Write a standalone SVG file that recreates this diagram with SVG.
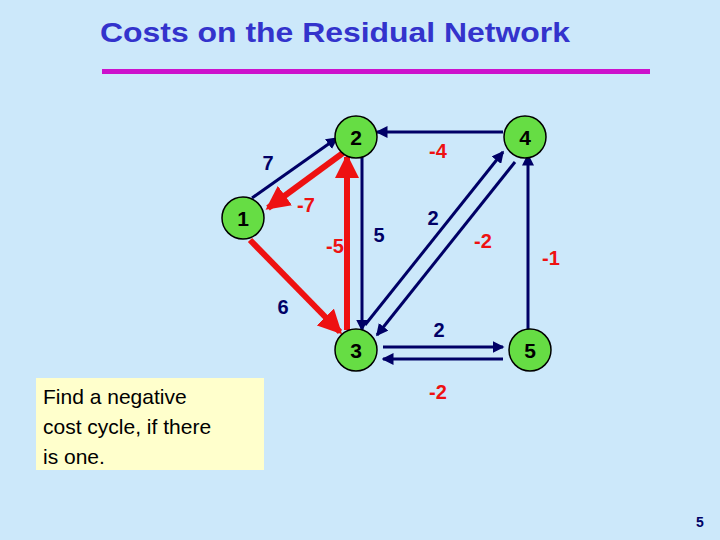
<svg xmlns="http://www.w3.org/2000/svg" width="720" height="540" viewBox="0 0 720 540">
<style>
.n{fill:#66dd44;stroke:#000;stroke-width:1.5}
.nt{font:bold 21px "Liberation Sans",Arial,sans-serif;fill:#000;text-anchor:middle}
.b{stroke:#000066;stroke-width:3;fill:none;marker-end:url(#ab)}
.r{stroke:#ee1111;stroke-width:6;fill:none;marker-end:url(#ar)}
.lb{font:bold 20px "Liberation Sans",Arial,sans-serif;fill:#000066;text-anchor:middle}
.lr{font:bold 20px "Liberation Sans",Arial,sans-serif;fill:#ee1111;text-anchor:middle}
</style>
<defs>
<marker id="ab" markerWidth="4" markerHeight="4" refX="3.5" refY="2" orient="auto"><path d="M0,0L4,2L0,4Z" fill="#000066"/></marker>
<marker id="ar" markerWidth="4" markerHeight="4" refX="3.5" refY="2" orient="auto"><path d="M0,0L4,2L0,4Z" fill="#ee1111"/></marker>
</defs>
<rect width="720" height="540" fill="#cce8fa"/>
<text x="100" y="42" font-family="Liberation Sans,Arial,sans-serif" font-size="28" font-weight="bold" fill="#3333cc" textLength="470" lengthAdjust="spacingAndGlyphs">Costs on the Residual Network</text>
<rect x="102" y="69" width="548" height="5" fill="#cc11cc"/>
<g id="connectors">
<line class="b" x1="252" y1="198" x2="337" y2="138"/>
<line class="r" x1="347" y1="150" x2="268" y2="208"/>
<line class="r" x1="250" y1="240" x2="340" y2="332"/>
<line class="r" x1="347" y1="330" x2="347" y2="157"/>
<line class="b" x1="362" y1="155" x2="362" y2="330"/>
<line class="b" x1="503" y1="132" x2="377" y2="132"/>
<line class="b" x1="365" y1="325" x2="503" y2="152"/>
<line class="b" x1="515" y1="162" x2="377" y2="335"/>
<line class="b" x1="528" y1="330" x2="528" y2="155"/>
<line class="b" x1="383" y1="347" x2="503" y2="347"/>
<line class="b" x1="503" y1="359" x2="383" y2="359"/>
</g>
<g id="node1"><circle class="n" cx="243" cy="218" r="21"/><text class="nt" x="243" y="226">1</text></g>
<g id="node2"><circle class="n" cx="356" cy="137" r="21"/><text class="nt" x="356" y="145">2</text></g>
<g id="node3"><circle class="n" cx="356" cy="350" r="21"/><text class="nt" x="356" y="358">3</text></g>
<g id="node4"><circle class="n" cx="525" cy="137" r="21"/><text class="nt" x="525" y="145">4</text></g>
<g id="node5"><circle class="n" cx="530" cy="350" r="21"/><text class="nt" x="530" y="358">5</text></g>
<g id="labels">
<text class="lb" x="268" y="170">7</text>
<text class="lr" x="306" y="212">-7</text>
<text class="lr" x="335" y="253">-5</text>
<text class="lb" x="379" y="242">5</text>
<text class="lb" x="433" y="225">2</text>
<text class="lr" x="483" y="248">-2</text>
<text class="lr" x="551" y="265">-1</text>
<text class="lr" x="438" y="158">-4</text>
<text class="lb" x="283" y="314">6</text>
<text class="lb" x="439" y="337">2</text>
<text class="lr" x="438" y="399">-2</text>
</g>
<rect x="36" y="378" width="228" height="92" fill="#ffffcc"/>
<text font-family="Liberation Sans,Arial,sans-serif" font-size="21" fill="#000"><tspan x="43" y="404">Find a negative</tspan><tspan x="43" y="434">cost cycle, if there</tspan><tspan x="43" y="464">is one.</tspan></text>
<text x="700" y="527" font-family="Liberation Sans,Arial,sans-serif" font-size="14" font-weight="bold" fill="#000066" text-anchor="middle">5</text>
</svg>
